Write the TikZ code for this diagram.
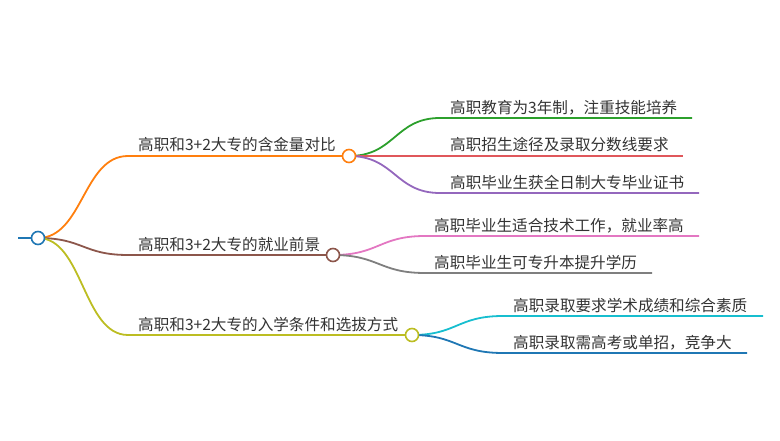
\documentclass[tikz,border=0pt]{standalone}
\usepackage{fontspec}
\setmainfont{Noto Sans CJK SC}
\definecolor{cOrange}{HTML}{FF7F0E}
\definecolor{cBrown}{HTML}{8C564B}
\definecolor{cOlive}{HTML}{BCBD22}
\definecolor{cGreen}{HTML}{2CA02C}
\definecolor{cRed}{HTML}{E0575B}
\definecolor{cPurple}{HTML}{9467BD}
\definecolor{cPink}{HTML}{E377C2}
\definecolor{cGray}{HTML}{7F7F7F}
\definecolor{cCyan}{HTML}{17BECF}
\definecolor{cBlue}{HTML}{1F77B4}
\definecolor{txt}{HTML}{333333}
\tikzset{
  dot/.style={circle, draw=#1, fill=white, line width=1.6pt, minimum size=13pt, inner sep=0pt},
  lbl/.style={anchor=base west, inner sep=0pt, text=txt, font=\fontsize{15.6pt}{18pt}\selectfont},
  mainline/.style={draw=#1, line width=1.8pt},
  subline/.style={draw=#1, line width=1.8pt},
}
\begin{document}
\begin{tikzpicture}[x=1pt,y=-1pt]
\useasboundingbox (0,0) rectangle (780,441);
% coordinates
\coordinate (r0) at (18,238);
\coordinate (rc) at (38,238);
\coordinate (s1) at (128,156);
\coordinate (s2) at (128,255);
\coordinate (s3) at (128,335);
\coordinate (k1) at (349,156);
\coordinate (k2) at (333,255);
\coordinate (k3) at (412,335);
\coordinate (a1) at (440,118);   \coordinate (e1) at (692,118);
\coordinate (a2) at (440,156);   \coordinate (e2) at (683,156);
\coordinate (a3) at (440,193);   \coordinate (e3) at (699,193);
\coordinate (a4) at (425,236);   \coordinate (e4) at (699,236);
\coordinate (a5) at (425,273);   \coordinate (e5) at (652,273);
\coordinate (a6) at (503,316);   \coordinate (e6) at (763,316);
\coordinate (a7) at (503,353);   \coordinate (e7) at (747,353);
% root underline
\draw[mainline=cBlue] (r0) -- (rc);
% main branches
\draw[mainline=cOrange] (rc) .. controls (83,238) and (83,156) .. (s1) -- (k1);
\draw[mainline=cBrown] (rc) .. controls (83,238) and (83,255) .. (s2) -- (k2);
\draw[mainline=cOlive] (rc) .. controls (83,238) and (83,335) .. (s3) -- (k3);
% sub branches
\draw[subline=cGreen] (k1) .. controls (395,156) and (395,118) .. (a1) -- (e1);
\draw[subline=cRed] (k1) -- (a2) -- (e2);
\draw[subline=cPurple] (k1) .. controls (395,156) and (395,193) .. (a3) -- (e3);
\draw[subline=cPink] (k2) .. controls (379,255) and (379,236) .. (a4) -- (e4);
\draw[subline=cGray] (k2) .. controls (379,255) and (379,273) .. (a5) -- (e5);
\draw[subline=cCyan] (k3) .. controls (457,335) and (457,316) .. (a6) -- (e6);
\draw[subline=cBlue] (k3) .. controls (457,335) and (457,353) .. (a7) -- (e7);
% circles
\node[dot=cBlue] (root) at (rc) {};
\node[dot=cOrange] (n1) at (k1) {};
\node[dot=cBrown] (n2) at (k2) {};
\node[dot=cOlive] (n3) at (k3) {};
% labels
\node[lbl] (t1) at (138,151) {高职和3+2大专的含金量对比};
\node[lbl] (t2) at (138,250.5) {高职和3+2大专的就业前景};
\node[lbl] (t3) at (138,330.5) {高职和3+2大专的入学条件和选拔方式};
\node[lbl] (t11) at (450,113.5) {高职教育为3年制，注重技能培养};
\node[lbl] (t12) at (450,151) {高职招生途径及录取分数线要求};
\node[lbl] (t13) at (450,188.5) {高职毕业生获全日制大专毕业证书};
\node[lbl] (t21) at (434,231.5) {高职毕业生适合技术工作，就业率高};
\node[lbl] (t22) at (434,268.5) {高职毕业生可专升本提升学历};
\node[lbl] (t31) at (513,311.5) {高职录取要求学术成绩和综合素质};
\node[lbl] (t32) at (513,348.5) {高职录取需高考或单招，竞争大};
\end{tikzpicture}
\end{document}
